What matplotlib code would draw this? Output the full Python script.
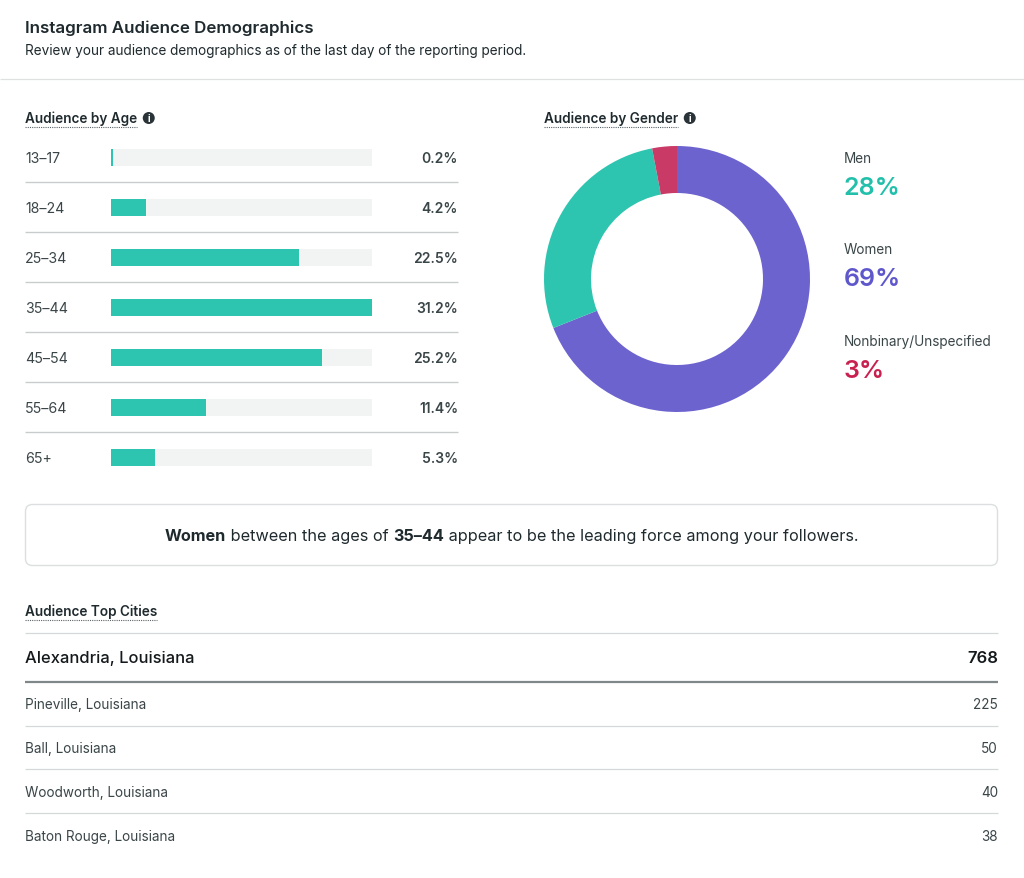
import matplotlib
matplotlib.use('Agg')
import matplotlib.pyplot as plt
from matplotlib.patches import FancyBboxPatch, Circle

plt.rcParams['font.family'] = ['Inter', 'DejaVu Sans']

age_groups = ['13–17', '18–24', '25–34', '35–44', '45–54', '55–64', '65+']
age_values = [0.2, 4.2, 22.5, 31.2, 25.2, 11.4, 5.3]
age_labels = ['0.2%', '4.2%', '22.5%', '31.2%', '25.2%', '11.4%', '5.3%']

gender_names = ['Women', 'Men', 'Nonbinary/Unspecified']
gender_values = [69, 28, 3]
gender_colors = ['#6c63cf', '#2ec5b0', '#c93a66']
gender_text_colors = ['#5f57cc', '#22c0aa', '#c8214f']

top_city = 'Alexandria, Louisiana'
top_city_value = 768
cities = ['Pineville, Louisiana', 'Ball, Louisiana', 'Woodworth, Louisiana', 'Baton Rouge, Louisiana']
city_values = [225, 50, 40, 38]

W, H = 1024, 879
DARK = '#1f2a2e'
MID = '#3a4548'
RULE = '#d5d8d8'

fig = plt.figure(figsize=(W / 100, H / 100), dpi=100, facecolor='white')


def px_axes(left, top, right, bottom):
    return fig.add_axes([left / W, 1 - bottom / H, (right - left) / W, (bottom - top) / H])


# full page axes in pixels, for the text and rules
page = px_axes(0, 0, W, H)
page.set_xlim(0, W)
page.set_ylim(H - 1, -1)
page.axis('off')


def hline(x0, x1, y, color=RULE, lw=0.9, ls='-'):
    page.plot([x0, x1], [y, y], color=color, lw=lw, ls=ls, solid_capstyle='butt')


def section_title(x, y, text, icon=False):
    t = page.text(x, y, text, fontsize=9.75, fontweight='semibold', color=DARK, va='center')
    fig.canvas.draw()
    x1 = page.transData.inverted().transform(t.get_window_extent().get_points())[1][0]
    page.plot([x, x1], [y + 8.5, y + 8.5], color='#5a6468', lw=0.8, ls=(0, (1, 1)))
    if icon:
        page.add_patch(Circle((x1 + 11.5, y), 6, color='#2a3438', lw=0))
        page.text(x1 + 11.5, y + 0.3, 'i', fontsize=7, fontweight='bold', color='white', ha='center', va='center')


# header
page.text(25, 27.5, 'Instagram Audience Demographics', fontsize=12.2, fontweight='semibold', color=DARK, va='center')
page.text(25, 50.5, 'Review your audience demographics as of the last day of the reporting period.',
          fontsize=9.75, color=DARK, va='center')
hline(0, W, 79, color='#dfe1e1')

section_title(25, 118, 'Audience by Age', icon=True)
section_title(544, 118, 'Audience by Gender', icon=True)

# age bars
bar_ax = px_axes(111, 133, 372, 483)
bar_ax.set_xlim(0, max(age_values))
bar_ax.set_ylim(len(age_groups) - 0.5, -0.5)
bar_ax.axis('off')
ypos = list(range(len(age_groups)))
bar_ax.barh(ypos, [max(age_values)] * len(ypos), height=0.34, color='#f2f4f4')
bar_ax.barh(ypos, age_values, height=0.34, color='#2ec5b0', lw=0)

for i, (name, label) in enumerate(zip(age_groups, age_labels)):
    y = 157.5 + i * 50
    page.text(25, y + 0.5, name, fontsize=10.2, color=MID, va='center')
    page.text(458, y + 0.5, label, fontsize=10, fontweight='semibold', color=MID, va='center', ha='right')
    if i < len(age_groups) - 1:
        hline(25, 458, y + 24.7, color='#c9cccc', lw=1.0)

# gender donut
pie_ax = px_axes(544, 147, 810, 413)
pie_ax.pie(gender_values, colors=gender_colors, startangle=90, counterclock=False, radius=1.0,
           wedgeprops={'width': 47 / 133, 'linewidth': 0})
pie_ax.set_xlim(-1, 1)
pie_ax.set_ylim(-1, 1)

legend_order = [1, 0, 2]
for i, idx in enumerate(legend_order):
    y = 158 + i * 91.5
    page.text(844, y, gender_names[idx], fontsize=9.75, color=MID, va='center')
    page.text(843.5, y + 29.5, f'{gender_values[idx]}%', fontsize=18, fontweight='semibold',
              color=gender_text_colors[idx], va='center')

# callout box
page.add_patch(FancyBboxPatch((25.5, 504.5), 972, 61, boxstyle='round,pad=0,rounding_size=7',
                              fc='white', ec='#dcdfdf', lw=1.0))
runs = [('Women', 'bold'), (' between the ages of ', 'normal'), ('35–44', 'bold'),
        (' appear to be the leading force among your followers.', 'normal')]
renderer = fig.canvas.get_renderer()
widths = []
for text, weight in runs:
    t = page.text(0, 0, text.replace(' ', '\u00a0'), fontsize=11.7, fontweight=weight)
    widths.append(t.get_window_extent(renderer).width)
    t.remove()
x = 511.5 - sum(widths) / 2
for (text, weight), w in zip(runs, widths):
    page.text(x, 535.5, text.replace(' ', '\u00a0'), fontsize=11.7, fontweight=weight, color=DARK, va='center')
    x += w

# cities table
section_title(25, 611, 'Audience Top Cities')
hline(25, 998, 632.8)
page.text(25, 658, top_city, fontsize=11.9, fontweight='medium', color='#14191c', va='center')
page.text(998, 658, str(top_city_value), fontsize=12, fontweight='semibold', color='#14191c', va='center', ha='right')
hline(25, 998, 681.5, color='#7f8789', lw=1.6)
for i, (city, val) in enumerate(zip(cities, city_values)):
    y = 704.5 + i * 43.7
    page.text(25, y, city, fontsize=9.75, color=MID, va='center')
    page.text(998, y, str(val), fontsize=9.75, color=MID, va='center', ha='right')
    if i < len(cities) - 1:
        hline(25, 998, y + 21)

fig.savefig('out.png', dpi=100)
